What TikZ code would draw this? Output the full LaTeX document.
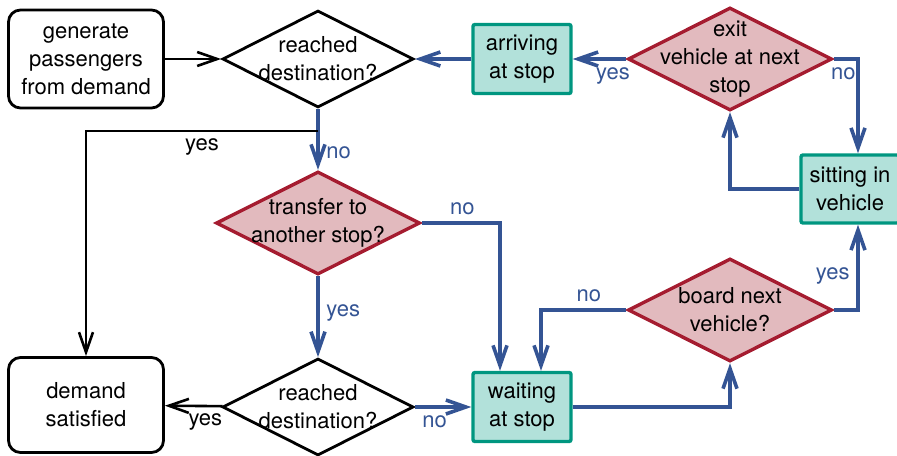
\documentclass[tikz,border=0pt]{standalone}
\usepackage{fontspec}
\setmainfont{TeX Gyre Heros}
\usetikzlibrary{shapes}
\usetikzlibrary{arrows.meta}

\definecolor{flowblue}{RGB}{52,84,148}
\definecolor{redline}{RGB}{165,28,48}
\definecolor{redfill}{RGB}{226,186,190}
\definecolor{tealline}{RGB}{0,150,128}
\definecolor{tealfill}{RGB}{178,225,218}

\begin{document}
\begin{tikzpicture}[x=0.5pt,y=-0.5pt]
					\tikzstyle{every node}=[font=\fontsize{11}{14}\selectfont, align=center]
					\tikzstyle{endbox}=[rectangle, rounded corners=6pt, draw, line width=1.4pt, minimum width=77.5pt, inner sep=0pt]
					\tikzstyle{query}=[diamond, aspect=2, draw, line width=1.4pt, inner sep=-6pt, minimum width=95.5pt, minimum height=48.5pt]
					\tikzstyle{choice}=[diamond, aspect=2, draw=redline, fill=redfill, line width=1.7pt, inner sep=-8pt, minimum width=102pt, minimum height=51.5pt]
					\tikzstyle{state}=[rectangle, rounded corners=1pt, draw=tealline, fill=tealfill, line width=1.7pt, minimum width=49pt, minimum height=34.5pt, inner sep=0pt]
					\tikzstyle{bline}=[draw=flowblue, line width=1.8pt, -{Straight Barb[length=10pt,width=7pt]}]
					\tikzstyle{kline}=[draw=black, line width=1.3pt, -{Straight Barb[length=10pt,width=7pt]}]
					\tikzstyle{blab}=[text=flowblue]
					
					\useasboundingbox (0,0) rectangle (897,455);
					
					\node[endbox, minimum height=49pt] (gen) at (86,59) {generate\\passengers\\from demand};
					\node[query] (rd1) at (318,59) {reached\\destination?};
					\node[state] (arr) at (522,59) {arriving\\at stop};
					\node[choice] (exit) at (730,59) {exit\\vehicle at next\\stop};
					\node[state, minimum height=34pt] (sit) at (850,189) {sitting in\\vehicle};
					\node[choice] (transfer) at (318,223) {transfer to\\another stop?};
					\node[choice] (board) at (730,310) {board next\\vehicle?};
					\node[query] (rd2) at (318,407) {reached\\destination?};
					\node[state] (wait) at (522,407) {waiting\\at stop};
					\node[endbox, minimum height=47.5pt] (sat) at (86,405) {demand\\satisfied};
					\coordinate (split) at (318,131);
					
					\draw[kline] (gen) -- (rd1);
					\draw[bline] (arr) -- (rd1);
					\draw[bline] (exit) -- node[blab, below, pos=0.25] {yes} (arr);
					\draw[bline] (exit.east) -| node[blab, below, pos=0.2] {no} ([xshift=4pt]sit.north);
					\draw[bline] (sit.west) -| (exit.south);
					\draw[bline] (rd1) -- node[blab, right, pos=0.72] {no} (transfer);
					\draw[kline] (split) -| node[below, pos=0.25] {yes} (sat);
					\draw[bline] (transfer.east) -| node[blab, above, pos=0.26] {no} ([xshift=-11pt]wait.north);
					\draw[bline] (transfer) -- node[blab, right, pos=0.45] {yes} (rd2);
					\draw[kline] (rd2) -- node[below, pos=0.3] {yes} (sat);
					\draw[bline] (rd2) -- node[blab, below, pos=0.35] {no} (wait);
					\draw[bline] (wait.east) -| (board.south);
					\draw[bline] (board.west) -| node[blab, above, pos=0.22] {no} ([xshift=9.5pt]wait.north);
					\draw[bline] (board.east) -| node[blab, left, pos=0.7] {yes} ([xshift=4pt]sit.south);
\end{tikzpicture}
\end{document}
